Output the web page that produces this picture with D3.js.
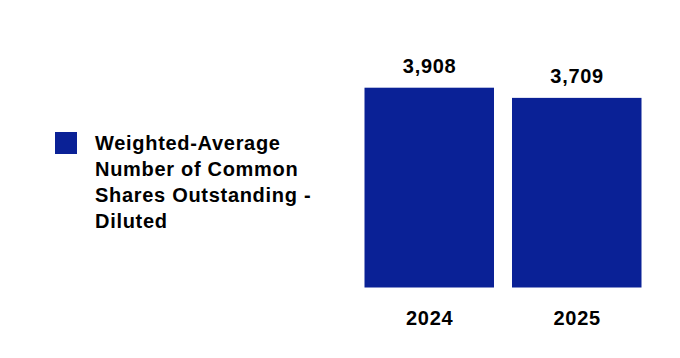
<!DOCTYPE html>
<html><head><meta charset="utf-8">
<script src="https://cdn.jsdelivr.net/npm/d3@7"></script>
<style>body{margin:0;background:#fff}svg{display:block}</style>
</head><body>
<svg id="c" width="680" height="358"></svg>
<script>
const categories = ["2024", "2025"];
const values = [3908, 3709];
const seriesName = ["Weighted-Average", "Number of Common", "Shares Outstanding -", "Diluted"];
const barColor = "#0a2196";

const svg = d3.select("#c");
const font = "'Liberation Sans', Arial, Helvetica, sans-serif";
const ls = "0.7px";

const x = d3.scaleBand().domain(categories).range([364.5, 641.5]).paddingInner(0.122).paddingOuter(0);
const y = d3.scaleLinear().domain([0, d3.max(values)]).range([287.5, 87.7]);

svg.selectAll("rect.bar").data(values).join("rect")
  .attr("class", "bar")
  .attr("x", (d, i) => x(categories[i]))
  .attr("width", x.bandwidth())
  .attr("y", d => y(d))
  .attr("height", d => y(0) - y(d))
  .attr("fill", barColor);

svg.selectAll("text.val").data(values).join("text")
  .attr("class", "val")
  .attr("x", (d, i) => x(categories[i]) + x.bandwidth() / 2 + 0.4)
  .attr("y", d => y(d) - 15)
  .attr("text-anchor", "middle")
  .attr("font-family", font).attr("font-weight", "bold").attr("font-size", 20)
  .attr("letter-spacing", ls)
  .attr("fill", "#000")
  .text(d => d3.format(",")(d));

const xAxis = d3.axisBottom(x).tickSize(0).tickPadding(0);
const gx = svg.append("g").attr("transform", "translate(0.4,325)").call(xAxis);
gx.select(".domain").remove();
gx.selectAll("text").attr("dy", 0).attr("font-family", font).attr("font-weight", "bold").attr("font-size", 20)
  .attr("letter-spacing", ls).attr("fill", "#000");

const lg = svg.append("g");
lg.append("rect").attr("x", 55).attr("y", 132).attr("width", 22).attr("height", 22).attr("fill", barColor);
lg.selectAll("text").data(seriesName).join("text")
  .attr("x", 95)
  .attr("y", (d, i) => 150 + i * 26)
  .attr("font-family", font).attr("font-weight", "bold").attr("font-size", 20)
  .attr("letter-spacing", ls)
  .attr("fill", "#000")
  .text(d => d);
</script>
</body></html>
